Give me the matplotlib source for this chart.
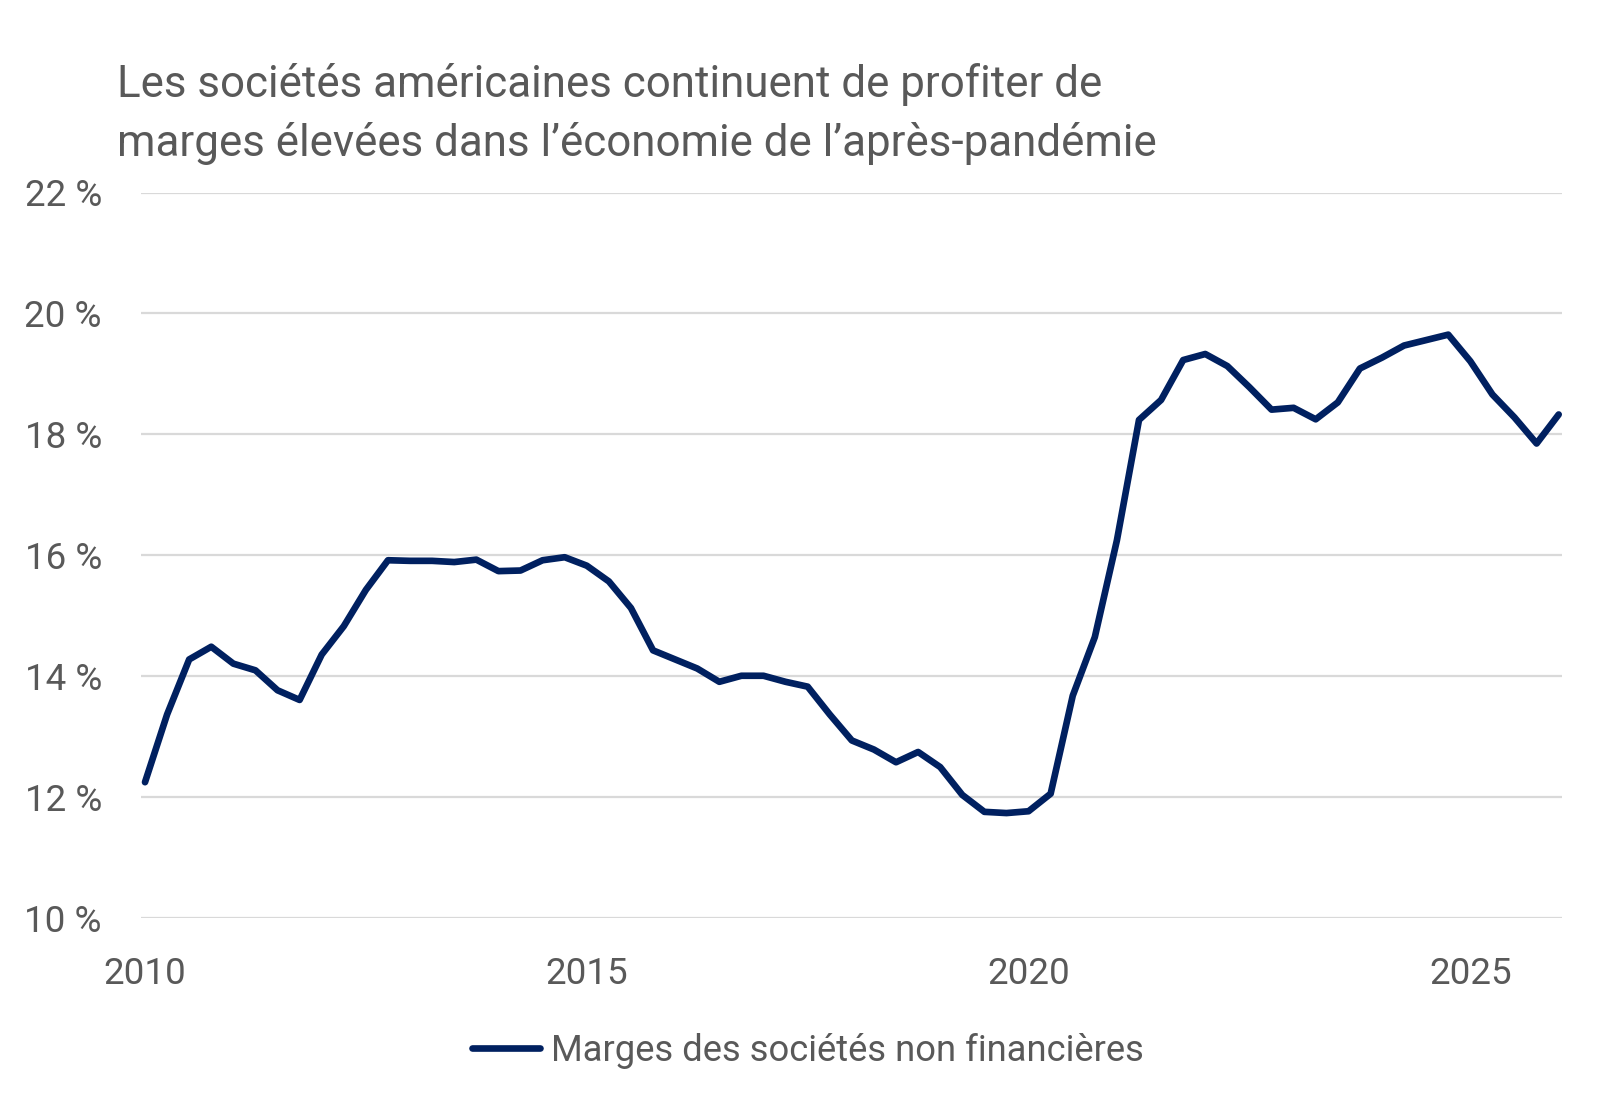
import matplotlib
matplotlib.use("Agg")
import matplotlib.pyplot as plt
import numpy as np

plt.rcParams['font.family'] = ['Roboto', 'DejaVu Sans']

start_year = 2010
values = [12.25, 13.37, 14.28, 14.49, 14.21, 14.10, 13.77, 13.61,
          14.36, 14.83, 15.43, 15.92, 15.91, 15.91, 15.89, 15.93,
          15.74, 15.75, 15.92, 15.97, 15.83, 15.57, 15.13, 14.43,
          14.28, 14.13, 13.91, 14.01, 14.01, 13.91, 13.83, 13.37,
          12.94, 12.79, 12.58, 12.75, 12.50, 12.04, 11.76, 11.74,
          11.77, 12.06, 13.68, 14.65, 16.25, 18.24, 18.57, 19.23,
          19.33, 19.13, 18.78, 18.41, 18.44, 18.25, 18.53, 19.09,
          19.27, 19.47, 19.56, 19.65, 19.21, 18.66, 18.28, 17.85,
          18.33]
x_ticks = [2010, 2015, 2020, 2025]
y_ticks = [10, 12, 14, 16, 18, 20, 22]
y_tick_labels = ["10 %", "12 %", "14 %", "16 %", "18 %", "20 %", "22 %"]
series_label = "Marges des sociétés non financières"
title_lines = ["Les sociétés américaines continuent de profiter de",
               "marges élevées dans l’économie de l’après-pandémie"]

W, H = 1600, 1107
fig = plt.figure(figsize=(W / 100, H / 100), dpi=100)
ax = fig.add_axes([140.8 / W, 1 - 918.3 / H, (1562.2 - 140.8) / W, (918.3 - 192.5) / H])

x = start_year + np.arange(len(values)) / 4.0
line_color = "#002060"
text_color = "#595959"
ax.plot(x, values, color=line_color, lw=4.8, solid_joinstyle='round',
        solid_capstyle='round', label=series_label, zorder=3)

ax.set_ylim(10, 22)
ax.set_xlim(2010 - 4.2 / 88.3, 2026 + 3.5 / 88.3)
ax.set_yticks(y_ticks)
ax.set_yticklabels(y_tick_labels)
ax.set_xticks(x_ticks)
ax.set_xticklabels([str(t) for t in x_ticks])
ax.grid(axis='y', color="#D9D9D9", lw=1.6)
ax.set_axisbelow(True)
for s in ax.spines.values():
    s.set_visible(False)
ax.tick_params(axis='both', length=0, labelsize=26.5, labelcolor=text_color)
ax.tick_params(axis='y', pad=28)
ax.tick_params(axis='x', pad=27)

fig.text(117 / W, 1 - 97 / H, title_lines[0], fontsize=31.6, color=text_color, va='baseline', ha='left')
fig.text(117 / W, 1 - 156 / H, title_lines[1], fontsize=31.6, color=text_color, va='baseline', ha='left')

leg = fig.legend(loc='center', bbox_to_anchor=(808 / W, 1 - 1051 / H), frameon=False,
                 fontsize=26.2, handlelength=1.85, handletextpad=0.3)
for t in leg.get_texts():
    t.set_color(text_color)

fig.savefig("out.png", dpi=100, facecolor="white")
